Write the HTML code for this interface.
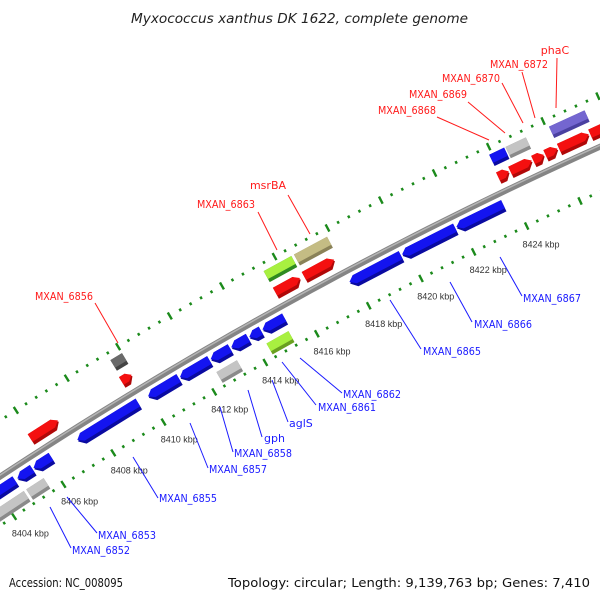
<!DOCTYPE html>
<html><head><meta charset="utf-8"><style>
html,body{margin:0;padding:0;background:#fff;}
svg{display:block;font-family:"DejaVu Sans","Liberation Sans",sans-serif;}
</style></head><body>
<svg id="map" width="600" height="600" viewBox="0 0 600 600" xmlns="http://www.w3.org/2000/svg">
<text x="131" y="23" textLength="337" lengthAdjust="spacingAndGlyphs" font-size="13" font-style="italic" fill="#222">Myxococcus xanthus DK 1622, complete genome</text>
<g id="ticks"></g>
<g id="backbone"></g>
<g id="genes"></g>
<g id="labels"></g>
<text x="9" y="587" textLength="114" lengthAdjust="spacingAndGlyphs" font-size="12" fill="#111">Accession: NC_008095</text>
<text x="228" y="587" textLength="362" lengthAdjust="spacingAndGlyphs" font-size="12" fill="#111">Topology: circular; Length: 9,139,763 bp; Genes: 7,410</text>
</svg>
<script>
// ---- data ----
const geneStart = [8403.5,8404.8,8405.45,8407.2,8410.0,8411.25,8412.45,8413.25,8413.95,8414.46,8417.8,8419.8,8421.85,
  8405.9,8409.5,8415.45,8416.55,8423.85,8424.3,8425.15,8425.6,8426.1,8427.25,
  8409.55,8415.45,8416.6,8423.9,8424.5,8426.1,
  8403.3,8404.85,8412.4,8414.35];
const geneEnd = [8404.7,8405.4,8406.15,8409.6,8411.2,8412.4,8413.2,8413.9,8414.4,8415.3,8419.75,8421.8,8423.6,
  8407.0,8409.9,8416.4,8417.7,8424.25,8425.1,8425.55,8426.05,8427.2,8428.4,
  8410.0,8416.5,8417.85,8424.45,8425.25,8427.4,
  8404.75,8405.55,8413.2,8415.2];
const geneRow = ["r1","r1","r1","r1","r1","r1","r1","r1","r1","r1","r1","r1","r1",
  "f1","f1","f1","f1","f1","f1","f1","f1","f1","f1",
  "f2","f2","f2","f2","f2","f2",
  "r2","r2","r2","r2"];
const geneColor = ["#1414f0","#1414f0","#1414f0","#1414f0","#1414f0","#1414f0","#1414f0","#1414f0","#1414f0","#1414f0","#1414f0","#1414f0","#1414f0",
  "#f41010","#f41010","#f41010","#f41010","#f41010","#f41010","#f41010","#f41010","#f41010","#f41010",
  "#6a6a6a","#a8f040","#c4bc84","#1414f0","#c4c4c4","#7466d0",
  "#c4c4c4","#c4c4c4","#c4c4c4","#a8f040"];
const geneDark = ["#0a0aa0","#0a0aa0","#0a0aa0","#0a0aa0","#0a0aa0","#0a0aa0","#0a0aa0","#0a0aa0","#0a0aa0","#0a0aa0","#0a0aa0","#0a0aa0","#0a0aa0",
  "#b00808","#b00808","#b00808","#b00808","#b00808","#b00808","#b00808","#b00808","#b00808","#b00808",
  "#444","#2e8a20","#8a8258","#0a0aa0","#8a8a8a","#4a40a0",
  "#8a8a8a","#8a8a8a","#8a8a8a","#6aa020"];
const tickLabels = [8404,8406,8408,8410,8412,8414,8416,8418,8420,8422,8424];
const tickFrom = 8400, tickTo = 8430, minorStep = 0.4, majorStep = 2;

// ---- geometry ----
const CX = 2376, CY = 4087, R = 4322;
const a0 = Math.atan2(518-CY, 15-CX), a1 = Math.atan2(233-CY, 530-CX);
const radPerKbp = (a1-a0)/20;
function ang(k){ return a0 + (k-8404)*radPerKbp; }
function pt(k, dr){ const a = ang(k), r = R+dr; return [CX+r*Math.cos(a), CY+r*Math.sin(a)]; }
const NS = "http://www.w3.org/2000/svg";
function mk(tag, attrs, parent){ const e = document.createElementNS(NS, tag); for (const k in attrs) e.setAttribute(k, attrs[k]); parent.appendChild(e); return e; }

// backbone
const bb = document.getElementById('backbone');
function arcPath(dr){ let d=""; for(let k=8398;k<=8432;k+=0.5){ const p=pt(k,dr); d+=(d?"L":"M")+p[0].toFixed(2)+","+p[1].toFixed(2);} return d; }
const bbLine = mk('path',{d:arcPath(0),fill:"none",stroke:"#858585","stroke-width":6},bb);


const bbHi = mk('path',{d:arcPath(1.3),fill:"none",stroke:"#b4b4b4","stroke-width":1.5},bb);



// ticks
const tg = document.getElementById('ticks');
[47,-41].forEach(function(ring){
  const n = Math.round((tickTo-tickFrom)/minorStep);
  for(let i=0;i<=n;i++){
    const k = tickFrom + i*minorStep;
    const major = Math.abs(k/majorStep - Math.round(k/majorStep))<1e-6;
    const h = major?4:1.4;
    const p1 = pt(k, ring-h), p2 = pt(k, ring+h);
    const t = mk('line',{x1:p1[0],y1:p1[1],x2:p2[0],y2:p2[1],stroke:"#1b8a1b","stroke-width":2.4},tg);
    
    
  }
});
tickLabels.forEach(function(k){
  const p = pt(k, -58);
  const t = mk('text',{x:(p[0]+7).toFixed(1),y:(p[1]+6).toFixed(1),"text-anchor":"middle","font-size":9,fill:"#333","font-family":"Liberation Sans, sans-serif"},tg);
  t.textContent = k+" kbp";
  
  
});

// genes
const TH = 12.5;
const rowIn = {f1:8, f2:27, r1:-19, r2:-37.5};
const gg = document.getElementById('genes');
const pxPerKbp = R*radPerKbp;
function shapePts(s,e,ri,ro,row){
  const arrow = (row==="f1"||row==="r1");
  const L = e-s; const h = arrow ? Math.min(6/pxPerKbp, 0.45*L) : 0;
  const mid=(ri+ro)/2; let P=[];
  if(row==="f1"){ P=[pt(s,ro),pt(e-h,ro),pt(e,mid),pt(e-h,ri),pt(s,ri)]; }
  else if(row==="r1"){ P=[pt(s,mid),pt(s+h,ro),pt(e,ro),pt(e,ri),pt(s+h,ri)]; }
  else { P=[pt(s,ro),pt(e,ro),pt(e,ri),pt(s,ri)]; }
  return P.map(p=>p[0].toFixed(2)+","+p[1].toFixed(2)).join(" ");
}
for(let i=0;i<geneStart.length;i++){
  const ri = rowIn[geneRow[i]], ro = ri+TH;
  const d = mk('polygon',{points:shapePts(geneStart[i],geneEnd[i],ri,ro,geneRow[i]),fill:geneDark[i]},gg);
  
  
  const g = mk('polygon',{points:shapePts(geneStart[i],geneEnd[i],ri+3.5,ro,geneRow[i]),fill:geneColor[i]},gg);
  
  
}

// labels (annotation layout)
const lg = document.getElementById('labels');
const blueLabels = [
 ["MXAN_6852",72,554,50,507,71,548],["MXAN_6853",98,539,67,497,97,533],["MXAN_6855",159,502,133,457,158,498],
 ["MXAN_6857",209,473,190,423,208,468],["MXAN_6858",234,457,220,407,233,452],["gph",264,442,248,390,262,437],
 ["aglS",289,427,272,380,288,422],["MXAN_6861",318,411,282,362,316,405],["MXAN_6862",343,398,300,358,342,393],
 ["MXAN_6865",423,355,390,300,421,349],["MXAN_6866",474,328,450,282,472,322],["MXAN_6867",523,302,500,257,522,296]];
blueLabels.forEach(function(b){
  const l = mk('line',{x1:b[3],y1:b[4],x2:b[5],y2:b[6],stroke:"#1a1aff","stroke-width":1},lg);
  
  
  const at = {x:b[1],y:b[2],"font-size":11,fill:"#1a1aff"};
  if(b[0].length>5){ at.textLength=58; at.lengthAdjust="spacingAndGlyphs"; }
  const t = mk('text',at,lg);
  t.textContent=b[0];
  
  
});
const redLabels = [
 ["MXAN_6856",64,300,95,303,118,343],["MXAN_6863",226,208,258,212,277,250],["msrBA",268,189,288,195,310,234],
 ["MXAN_6868",407,114,437,117,489,140],["MXAN_6869",438,98,468,102,505,133],["MXAN_6870",471,82,502,83,523,123],
 ["MXAN_6872",519,68,522,72,535,118],["phaC",555,54,557,58,556,108]];
redLabels.forEach(function(b){
  const l = mk('line',{x1:b[3],y1:b[4],x2:b[5],y2:b[6],stroke:"#ff1a1a","stroke-width":1},lg);
  
  
  const at = {x:b[1],y:b[2],"font-size":11,fill:"#ff1a1a","text-anchor":"middle"};
  if(b[0].length>5){ at.textLength=58; at.lengthAdjust="spacingAndGlyphs"; }
  const t = mk('text',at,lg);
  t.textContent=b[0];
  
  
});
</script>
</body></html>
